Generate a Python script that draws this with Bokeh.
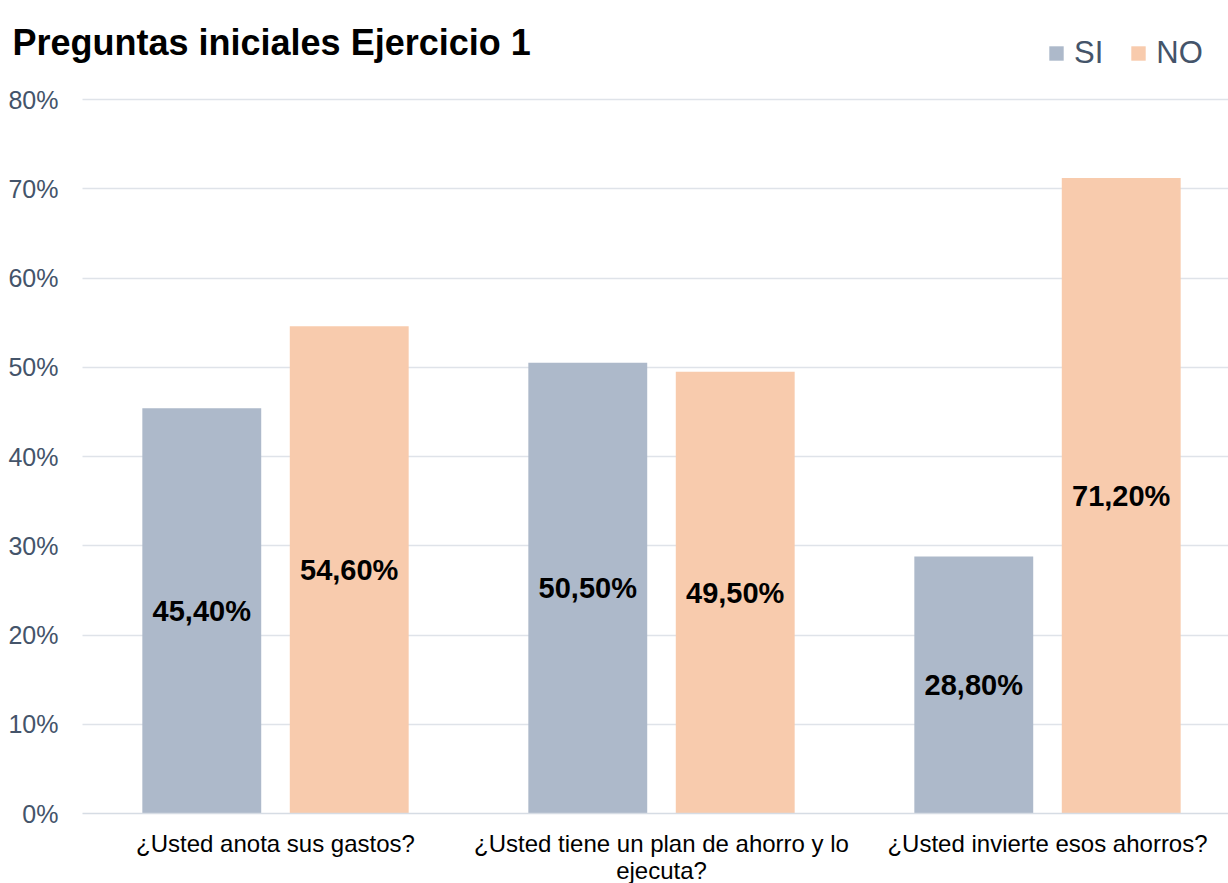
from bokeh.plotting import figure
from bokeh.models import (ColumnDataSource, Range1d, FixedTicker, PrintfTickFormatter,
                          Label, Legend, LegendItem)
from bokeh.transform import dodge
from bokeh.core.properties import value
from bokeh.embed import file_html
from bokeh.resources import INLINE

title = "Preguntas iniciales Ejercicio 1"
categories = ["¿Usted anota sus gastos?",
              "¿Usted tiene un plan de ahorro y lo\nejecuta?",
              "¿Usted invierte esos ahorros?"]
series = ["SI", "NO"]
si_values = [45.4, 50.5, 28.8]
no_values = [54.6, 49.5, 71.2]
y_ticks = [0, 10, 20, 30, 40, 50, 60, 70, 80]

SI_COLOR = "#adb9ca"
NO_COLOR = "#f8cbad"
FONT = "Liberation Sans"

W, H = 1228, 883
PLOT_LEFT = 82          # left edge of plotting area (px)
ZERO_Y = 813            # pixel row of the 0 % line
px_per_unit_y = (813 - 99) / 80.0
group_px = 386.0

x_left = -0.5                                  # left edge of plotting area (data)
x_start = x_left - PLOT_LEFT / group_px        # canvas left edge (data)
x_end = x_left + (W - PLOT_LEFT) / group_px    # canvas right edge (data)
y_start = -(H - ZERO_Y) / px_per_unit_y
y_end = ZERO_Y / px_per_unit_y


def fmt(v):
    return ("%.2f%%" % v).replace(".", ",")


idx = list(range(len(categories)))
src = ColumnDataSource(dict(
    x=idx,
    si=si_values, no=no_values,
    si_mid=[v / 2 for v in si_values], no_mid=[v / 2 for v in no_values],
    si_lab=[fmt(v) for v in si_values], no_lab=[fmt(v) for v in no_values],
))

p = figure(width=W, height=H, output_backend="svg", toolbar_location=None,
           x_range=Range1d(x_start, x_end),
           y_range=Range1d(y_start, y_end),
           min_border_left=0, min_border_right=0, min_border_top=0,
           min_border_bottom=0)
p.outline_line_color = None
p.background_fill_color = "white"
p.border_fill_color = "white"

bw = 0.308
off = 0.191
r_si = p.vbar(x=dodge("x", -off), top="si", bottom=0, width=bw, source=src,
              fill_color=SI_COLOR, line_color=None)
r_no = p.vbar(x=dodge("x", off), top="no", bottom=0, width=bw, source=src,
              fill_color=NO_COLOR, line_color=None)

for xo, yc, tc in ((-off, "si_mid", "si_lab"), (off, "no_mid", "no_lab")):
    p.text(x=dodge("x", xo), y=yc, text=tc, source=src,
           text_align="center", text_baseline="middle", text_font=value(FONT),
           text_font_style="bold", text_font_size="29px", text_color="black")

# grid
p.xgrid.grid_line_color = None
p.ygrid.grid_line_color = "#dfe3e9"
p.ygrid.grid_line_width = 1.5
p.ygrid.ticker = FixedTicker(ticks=y_ticks[1:])
p.ygrid.cross_bounds = (x_left, x_end)

# y axis (drawn at the left edge of the plotting area)
p.yaxis.fixed_location = x_left
p.yaxis.ticker = FixedTicker(ticks=y_ticks)
p.yaxis.formatter = PrintfTickFormatter(format="%d%%")
p.yaxis.axis_line_color = None
p.yaxis.major_tick_line_color = None
p.yaxis.minor_tick_line_color = None
p.yaxis.major_label_text_font = FONT
p.yaxis.major_label_text_font_size = "25px"
p.yaxis.major_label_text_color = "#44546a"
p.yaxis.major_label_standoff = 18

# x axis (drawn on the 0 line)
p.xaxis.fixed_location = 0
p.xaxis.ticker = FixedTicker(ticks=idx)
p.xaxis.major_label_overrides = {i: c for i, c in zip(idx, categories)}
p.xaxis.bounds = (x_left, x_end)
p.xaxis.axis_line_color = "#d6dce4"
p.xaxis.axis_line_width = 1.5
p.xaxis.major_tick_line_color = None
p.xaxis.minor_tick_line_color = None
p.xaxis.major_label_text_font = FONT
p.xaxis.major_label_text_font_size = "24px"
p.xaxis.major_label_text_color = "black"
p.xaxis.major_label_standoff = 10
p.xaxis.major_label_text_line_height = 1.0

# title
p.add_layout(Label(x=12, y=H - 42, x_units="screen", y_units="screen",
                   text=title, text_font=FONT, text_font_style="bold",
                   text_font_size="36px", text_color="black",
                   text_baseline="alphabetic", text_align="left"))

# legend
legend = Legend(items=[LegendItem(label=series[0], renderers=[r_si]),
                       LegendItem(label=series[1], renderers=[r_no])],
                location=(1047, H - 71), orientation="horizontal",
                glyph_width=18, glyph_height=18, label_standoff=9, spacing=26,
                padding=0, margin=0, border_line_color=None,
                background_fill_alpha=0, label_text_font=FONT,
                label_text_font_size="31px", label_text_color="#44546a")
p.add_layout(legend)

open("out.html", "w").write(file_html(p, INLINE))
